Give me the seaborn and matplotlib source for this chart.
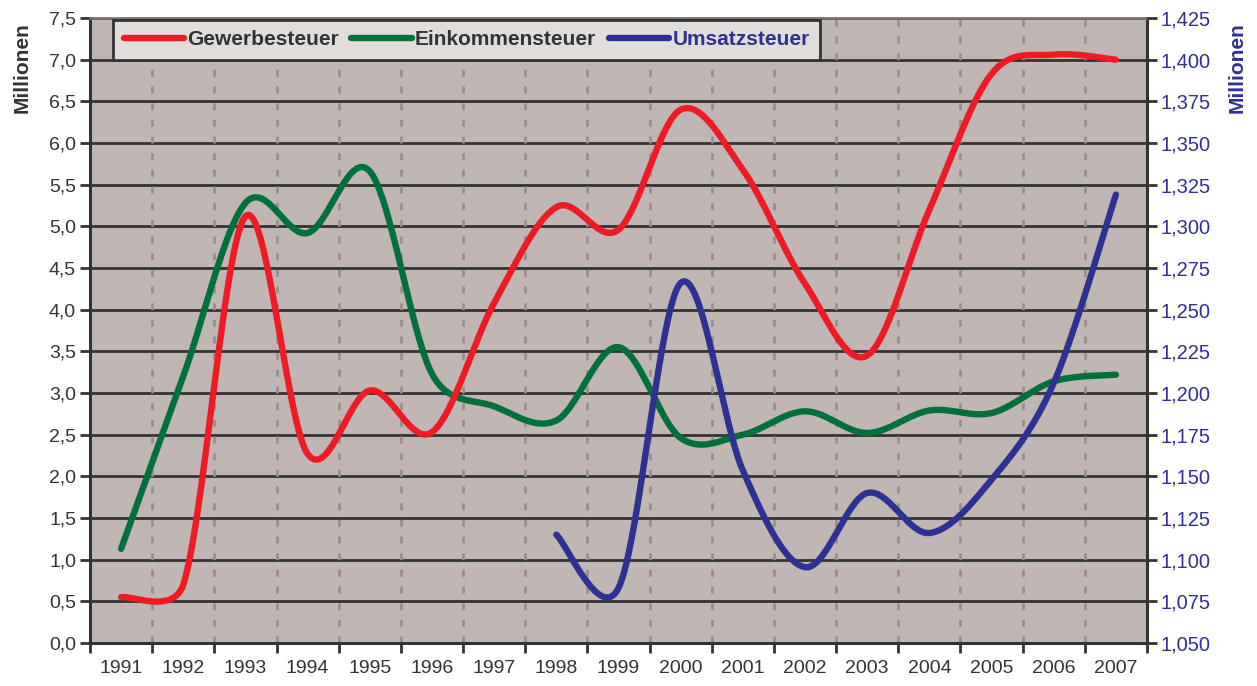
import numpy as np
import matplotlib
matplotlib.use("Agg")
import matplotlib.pyplot as plt
import seaborn as sns
from matplotlib.ticker import FixedLocator, FuncFormatter

years = [str(y) for y in range(1991, 2008)]

gewerbesteuer = [0.55, 0.70, 5.12, 2.27, 3.03, 2.53, 4.08, 5.23, 4.96, 6.40,
                 5.68, 4.31, 3.45, 5.20, 6.83, 7.06, 7.00]
einkommensteuer = [1.13, 3.20, 5.28, 4.92, 5.66, 3.23, 2.84, 2.67, 3.55, 2.46,
                   2.50, 2.78, 2.52, 2.79, 2.76, 3.14, 3.22]
# Umsatzsteuer only from 1998 on (right axis)
umsatz_years = years[7:]
umsatzsteuer = [1.115, 1.083, 1.266, 1.1535, 1.0955, 1.140, 1.116, 1.148, 1.206, 1.319]

RED = "#ED1C24"
GREEN = "#00703C"
BLUE = "#2E3192"
DARK = "#333333"
PLOT_BG = "#C0B6B3"

# pixel size of one x category / one y unit, used for the smoothing only
PX_X = 62.2
PX_Y = 83.3


def excel_smooth(x, y, sy, sx=PX_X, n=40):
    # catmull-rom style bezier in screen space, handles clamped on short segments
    P = np.column_stack([np.asarray(x, float) * sx, np.asarray(y, float) * sy])
    m = len(P)
    tang = np.array([(P[min(i + 1, m - 1)] - P[max(i - 1, 0)]) / 6 for i in range(m)])
    t = np.linspace(0, 1, n)[:, None]
    pts = []
    for i in range(m - 1):
        p0, p3 = P[i], P[i + 1]
        seg = np.hypot(*(p3 - p0)) * 0.5
        h0, h1 = tang[i], tang[i + 1]
        if np.hypot(*h0) > seg:
            h0 = h0 / np.hypot(*h0) * seg
        if np.hypot(*h1) > seg:
            h1 = h1 / np.hypot(*h1) * seg
        c1 = p0 + h0
        c2 = p3 - h1
        b = (1 - t) ** 3 * p0 + 3 * (1 - t) ** 2 * t * c1 + 3 * (1 - t) * t ** 2 * c2 + t ** 3 * p3
        pts.append(b)
    pts = np.vstack(pts)
    return pts[:, 0] / sx, pts[:, 1] / sy


sns.set_style("white")
plt.rcParams["font.family"] = ["Liberation Sans", "DejaVu Sans"]

fig = plt.figure(figsize=(12.57, 6.86), dpi=100)
ax = fig.add_axes([90 / 1257, 1 - 643 / 686, (1147 - 90) / 1257, (643 - 18) / 686])
ax.set_facecolor(PLOT_BG)

pos = np.arange(len(years))
upos = np.arange(7, len(years))

gx, gy = excel_smooth(pos, einkommensteuer, PX_Y)
rx, ry = excel_smooth(pos, gewerbesteuer, PX_Y)
sns.lineplot(x=gx, y=gy, ax=ax, color=GREEN, lw=4.6, sort=False,
             solid_capstyle="round", label="Einkommensteuer", zorder=3)
sns.lineplot(x=rx, y=ry, ax=ax, color=RED, lw=4.6, sort=False,
             solid_capstyle="round", label="Gewerbesteuer", zorder=4)

ax.set_xlim(-0.5, len(years) - 0.5)
ax.set_ylim(0, 7.5)
ax.set_yticks(np.arange(0, 7.51, 0.5))
ax.yaxis.set_major_formatter(FuncFormatter(lambda v, p: f"{v:.1f}".replace(".", ",")))
ax.grid(axis="y", color=DARK, lw=2, zorder=1)

# category boundaries: ticks + dashed gridlines, labels at centres
bounds = np.arange(-0.5, len(years), 1.0)
ax.xaxis.set_major_locator(FixedLocator(bounds))
ax.xaxis.set_minor_locator(FixedLocator(pos))
ax.set_xticklabels([], minor=False)
ax.set_xticklabels(years, minor=True)
for b in bounds[1:-1]:
    ax.axvline(b, color="#9A8E8B", lw=2, ls=(0, (2.5, 3.5)), zorder=2)

ax.tick_params(axis="x", which="major", length=7, width=2, color=DARK, direction="out", bottom=True)
ax.tick_params(axis="x", which="minor", length=0, labelsize=14, labelcolor=DARK, pad=12)
ax.tick_params(axis="y", length=7, width=2, color=DARK, direction="out", left=True,
               labelsize=14, labelcolor=DARK, pad=3)

for s in ["left", "bottom", "right"]:
    ax.spines[s].set_color(DARK)
    ax.spines[s].set_linewidth(2.2)
ax.spines["top"].set_color("#7A7070")
ax.spines["top"].set_linewidth(2)
ax.set_xlabel("")
ax.set_ylabel("")

ax2 = ax.twinx()
ux, uy = excel_smooth(upos, umsatzsteuer, PX_Y / 0.05)
sns.lineplot(x=ux, y=uy, ax=ax2, color=BLUE, lw=4.6, sort=False,
             solid_capstyle="round", label="Umsatzsteuer", zorder=5)
ax2.set_ylim(1.050, 1.425)
ax2.set_yticks(np.arange(1.050, 1.4251, 0.025))
ax2.yaxis.set_major_formatter(FuncFormatter(lambda v, p: f"{v:.3f}".replace(".", ",")))
ax2.tick_params(axis="y", length=7, width=2, color=DARK, direction="out", right=True,
                labelsize=14.5, labelcolor=BLUE, pad=3)
ax2.set_ylabel("")
for s in ax2.spines.values():
    s.set_visible(False)
ax2.get_legend().remove()
ax.get_legend().remove()

# legend in original order
handles = [ax.get_lines()[1], ax.get_lines()[0], ax2.get_lines()[0]]
labels = ["Gewerbesteuer", "Einkommensteuer", "Umsatzsteuer"]
leg = ax2.legend(handles, labels, loc="upper left", bbox_to_anchor=(0.022, 0.997),
                 borderaxespad=0, ncol=3, frameon=True, fancybox=False, handlelength=2.9,
                 handletextpad=0.15, columnspacing=0.6, borderpad=0.5,
                 prop={"weight": "bold", "size": 15})
leg.get_frame().set_facecolor("#E1DDDB")
leg.get_frame().set_edgecolor(DARK)
leg.get_frame().set_linewidth(2)
leg.get_frame().set_alpha(1)
for txt, c in zip(leg.get_texts(), [DARK, DARK, BLUE]):
    txt.set_color(c)

fig.text(22 / 1257, 1 - 68 / 686, "Millionen", rotation=90, ha="center", va="center",
         fontsize=15, fontweight="bold", color=DARK)
fig.text(1237 / 1257, 1 - 68 / 686, "Millionen", rotation=90, ha="center", va="center",
         fontsize=15, fontweight="bold", color=BLUE)

fig.savefig("out.png", dpi=100, facecolor="white")
